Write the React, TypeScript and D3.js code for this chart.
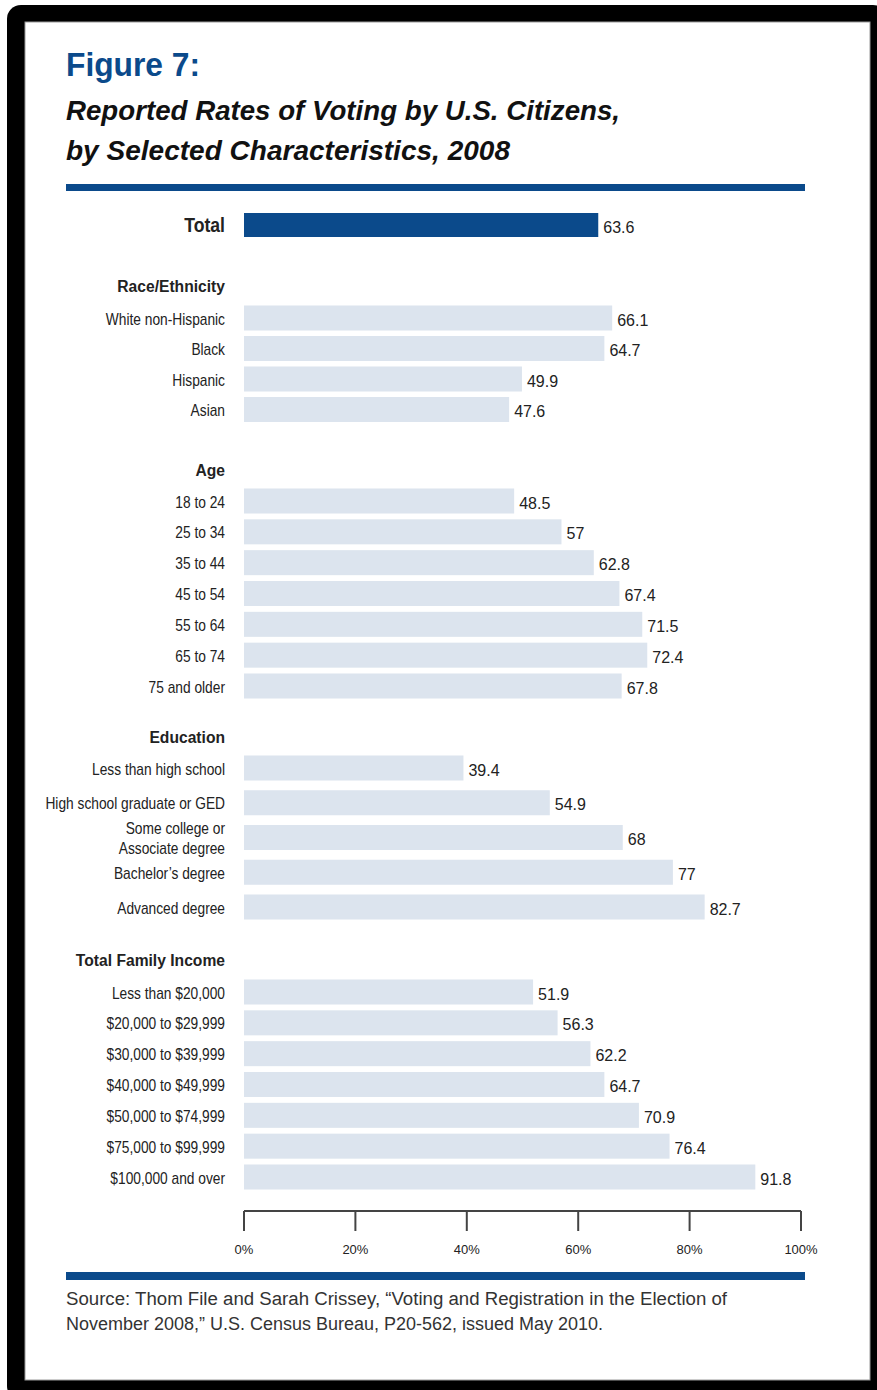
import React from "react";
import * as d3 from "d3";

const totalLabel = "Total";
const totalValue = 63.6;

const sectionTitles = ["Race/Ethnicity", "Age", "Education", "Total Family Income"];

const raceCategories = ["White non-Hispanic", "Black", "Hispanic", "Asian"];
const raceValues = [66.1, 64.7, 49.9, 47.6];

const ageCategories = ["18 to 24", "25 to 34", "35 to 44", "45 to 54", "55 to 64", "65 to 74", "75 and older"];
const ageValues = [48.5, 57, 62.8, 67.4, 71.5, 72.4, 67.8];

const educationCategories = [
  "Less than high school",
  "High school graduate or GED",
  "Some college or\nAssociate degree",
  "Bachelor\u2019s degree",
  "Advanced degree",
];
const educationValues = [39.4, 54.9, 68, 77, 82.7];

const incomeCategories = [
  "Less than $20,000",
  "$20,000 to $29,999",
  "$30,000 to $39,999",
  "$40,000 to $49,999",
  "$50,000 to $74,999",
  "$75,000 to $99,999",
  "$100,000 and over",
];
const incomeValues = [51.9, 56.3, 62.2, 64.7, 70.9, 76.4, 91.8];

const tickValues = [0, 20, 40, 60, 80, 100];

const titleText = "Figure 7:";
const subtitleLines = ["Reported Rates of Voting by U.S. Citizens,", "by Selected Characteristics, 2008"];
const sourceLines = [
  "Source: Thom File and Sarah Crissey, \u201CVoting and Registration in the Election of",
  "November 2008,\u201D U.S. Census Bureau, P20-562, issued May 2010.",
];

// layout
const W = 877;
const H = 1390;
const FONT = "'Liberation Sans', Arial, sans-serif";
const DARK_BLUE = "#0b4a8b";
const LIGHT_BAR = "#dce4ee";
const TEXT = "#222";

const sectionLayouts = [
  { header: 286, first: 318, last: 409.5 },
  { header: 470, first: 501, last: 686 },
  { header: 737, first: 768, last: 907 },
  { header: 960, first: 992, last: 1177 },
];

const sectionsData = [
  { cats: raceCategories, vals: raceValues },
  { cats: ageCategories, vals: ageValues },
  { cats: educationCategories, vals: educationValues },
  { cats: incomeCategories, vals: incomeValues },
];

function NarrowText(props: {
  x: number;
  y: number;
  s: number;
  size: number;
  bold?: boolean;
  anchor?: string;
  children: React.ReactNode;
}) {
  return (
    <text
      transform={`translate(${props.x},${props.y}) scale(${props.s},1)`}
      dy="0.35em"
      textAnchor={props.anchor || "end"}
      fontFamily={FONT}
      fontWeight={props.bold ? "bold" : "normal"}
      fontSize={props.size}
      fill={TEXT}
    >
      {props.children}
    </text>
  );
}

export default function App() {
  const x = d3.scaleLinear().domain([0, 100]).range([244, 801]);
  const labelX = 225;
  const barH = 25;
  const totalY = 225;
  const axisY = 1211;

  const rows: { label: string; value: number; y: number }[] = [];
  sectionsData.forEach((s, si) => {
    const L = sectionLayouts[si];
    const yS = d3.scaleLinear().domain([0, s.cats.length - 1]).range([L.first, L.last]);
    s.cats.forEach((c, i) => rows.push({ label: c, value: s.vals[i], y: yS(i) }));
  });

  return (
    <div style={{ position: "absolute", left: 0, top: 0 }}>
      <svg width={W} height={H} style={{ display: "block" }}>
        <rect x={0} y={0} width={W} height={H} fill="#fff" />
        <rect x={7} y={5} width={W - 7 + 10} height={H - 5 + 10} rx={14} fill="#000" />
        <rect x={25} y={22} width={845} height={1358} fill="#fff" stroke="#999" strokeWidth={1} />

        {/* Title */}
        <text x={66} y={76} fontFamily={FONT} fontWeight="bold" fontSize={33} fill={DARK_BLUE} textLength={134} lengthAdjust="spacingAndGlyphs">
          {titleText}
        </text>
        {subtitleLines.map((t, i) => (
          <text key={i} x={66} y={120 + i * 40} fontFamily={FONT} fontWeight="bold" fontStyle="italic" fontSize={28} fill="#111" textLength={i === 0 ? 554 : 444} lengthAdjust="spacingAndGlyphs">
            {t}
          </text>
        ))}
        <rect x={66} y={184} width={739} height={7} fill={DARK_BLUE} />

        {/* Total */}
        <NarrowText x={labelX} y={totalY} s={0.84} size={21} bold>
          {totalLabel}
        </NarrowText>
        <rect x={x(0)} y={totalY - 12} width={x(totalValue) - x(0)} height={24} fill={DARK_BLUE} />
        <text x={x(totalValue) + 5} y={totalY + 2} dy="0.35em" fontFamily={FONT} fontSize={16} fill={TEXT}>
          {totalValue}
        </text>

        {/* Section headers */}
        {sectionTitles.map((t, i) => (
          <NarrowText key={t} x={labelX} y={sectionLayouts[i].header} s={0.92} size={17} bold>
            {t}
          </NarrowText>
        ))}

        {/* Rows */}
        {rows.map((r, i) => {
          const lines = r.label.split("\n");
          return (
            <g key={i}>
              <rect x={x(0)} y={r.y - barH / 2} width={x(r.value) - x(0)} height={barH} fill={LIGHT_BAR} />
              {lines.map((ln, li) => (
                <NarrowText key={li} x={labelX} y={r.y + 1 + (li - (lines.length - 1) / 2) * 20} s={0.86} size={16}>
                  {ln}
                </NarrowText>
              ))}
              <text x={x(r.value) + 5} y={r.y + 2} dy="0.35em" fontFamily={FONT} fontSize={16} fill={TEXT}>
                {r.value}
              </text>
            </g>
          );
        })}

        {/* Axis */}
        <line x1={x(0)} x2={x(100)} y1={axisY} y2={axisY} stroke="#444" strokeWidth={2} />
        {tickValues.map((t) => (
          <g key={t}>
            <line x1={x(t)} x2={x(t)} y1={axisY} y2={axisY + 20} stroke="#444" strokeWidth={2} />
            <text x={x(t)} y={axisY + 43} textAnchor="middle" fontFamily={FONT} fontSize={13} fill={TEXT}>
              {t + "%"}
            </text>
          </g>
        ))}

        {/* Source */}
        <rect x={66} y={1272} width={739} height={8} fill={DARK_BLUE} />
        {sourceLines.map((t, i) => (
          <text key={i} x={66} y={1305 + i * 25} fontFamily={FONT} fontSize={18} fill="#333" textLength={i === 0 ? 661 : 537} lengthAdjust="spacingAndGlyphs">
            {t}
          </text>
        ))}
      </svg>
    </div>
  );
}
